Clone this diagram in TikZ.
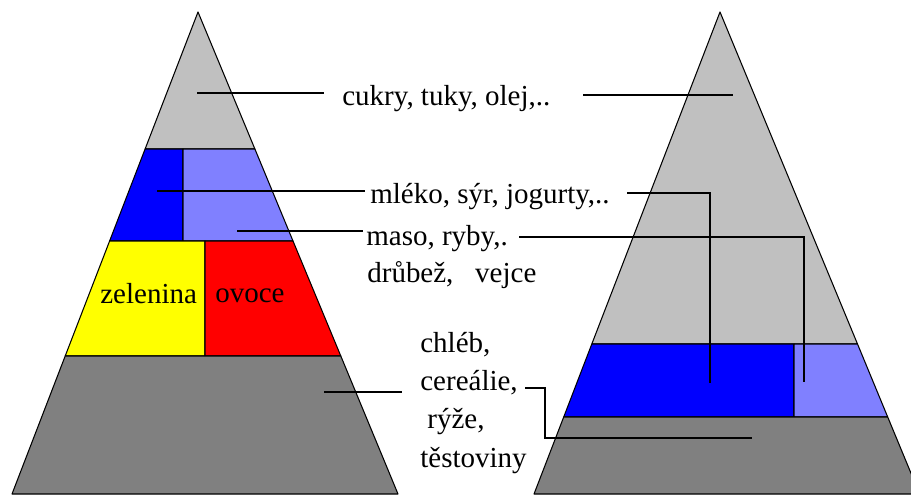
\documentclass[tikz,border=0pt]{standalone}
\usepackage{fontspec}
\setmainfont{Liberation Serif}
\usetikzlibrary{positioning}

\definecolor{topgray}{HTML}{C0C0C0}
\definecolor{lowgray}{HTML}{808080}
\definecolor{milkblue}{HTML}{0000FF}
\definecolor{meatblue}{HTML}{8080FF}
\definecolor{vegyellow}{HTML}{FFFF00}
\definecolor{fruitred}{HTML}{FF0000}

\begin{document}
\begin{tikzpicture}[x=0.02cm, y=-0.02cm,
    layer/.style={draw=black, line width=0.6pt, line join=round},
    lead/.style={draw=black, line width=0.7pt},
    food/.style={font=\fontsize{16.5}{19}\selectfont, inner sep=0pt, anchor=base west}]
    \clip (0,0) rectangle (911,495);
    \useasboundingbox (0,0) rectangle (911,495);

    % Left pyramid - four layers
    \fill[white] (0,0) rectangle (911,495);
    \filldraw[layer, fill=topgray] (198,12) -- (145.1,149) -- (254.9,149) -- cycle;
    \filldraw[layer, fill=milkblue] (145.1,149) -- (183,149) -- (183,241) -- (109.6,241) -- cycle;
    \filldraw[layer, fill=meatblue] (183,149) -- (254.9,149) -- (293,241) -- (183,241) -- cycle;
    \filldraw[layer, fill=vegyellow] (109.6,241) -- (205,241) -- (205,356) -- (65.2,356) -- cycle;
    \filldraw[layer, fill=fruitred] (205,241) -- (293,241) -- (340.8,356) -- (205,356) -- cycle;
    \filldraw[layer, fill=lowgray] (65.2,356) -- (340.8,356) -- (398,494) -- (12,494) -- cycle;
    \node[food] (zelenina) at (100,303) {zelenina};
    \node[food] (ovoce) at (215,302) {ovoce};

    % Right pyramid - same foods, other shares
    \filldraw[layer, fill=topgray] (720,12) -- (857.5,344) -- (591.8,344) -- cycle;
    \filldraw[layer, fill=milkblue] (591.8,344) -- (794,344) -- (794,417) -- (563.7,417) -- cycle;
    \filldraw[layer, fill=meatblue] (794,344) -- (857.5,344) -- (887.7,417) -- (794,417) -- cycle;
    \filldraw[layer, fill=lowgray] (563.7,417) -- (887.7,417) -- (919.6,494) -- (534,494) -- cycle;

    % Labels in the middle
    \node[food] (cukry) at (342,105) {cukry, tuky, olej,..};
    \node[food] (mleko) at (370,203) {mléko, sýr, jogurty,..};
    \node[food] (maso) at (366,245) {maso, ryby,.};
    \node[food] (drubez) at (367,282) {drůbež,\hspace{0.75em}vejce};
    \node[food] (chleb) at (420,352) {chléb,};
    \node[food] (cerealie) at (420,390) {cereálie,};
    \node[food] (ryze) at (427,428) {rýže,};
    \node[food] (testoviny) at (420,467) {těstoviny};

    % Leader ends
    \coordinate (cukryL) at (197,93);
    \coordinate (cukryT) at (324,93);
    \coordinate (cukryS) at (583,95);
    \coordinate (cukryR) at (733,95);
    \coordinate (mlekoL) at (157,191);
    \coordinate (mlekoT) at (365,191);
    \coordinate (mlekoS) at (627,193);
    \coordinate (mlekoR) at (710,383);
    \coordinate (masoL) at (237,231);
    \coordinate (masoT) at (363,231);
    \coordinate (masoS) at (519,237);
    \coordinate (masoR) at (804,382);
    \coordinate (chlebL) at (324,392);
    \coordinate (chlebT) at (402,392);
    \coordinate (chlebS) at (525,388);
    \coordinate (chlebR) at (752,438);

    % Leader lines
    \draw[lead] (cukryL) -- (cukryT);
    \draw[lead] (cukryS) -- (cukryR);
    \draw[lead] (mlekoL) -- (mlekoT);
    \draw[lead] (mlekoS) -| (mlekoR);
    \draw[lead] (masoL) -- (masoT);
    \draw[lead] (masoS) -| (masoR);
    \draw[lead] (chlebL) -- (chlebT);
    \draw[lead] (chlebS) -- ++(20,0) |- (chlebR);
\end{tikzpicture}
\end{document}
